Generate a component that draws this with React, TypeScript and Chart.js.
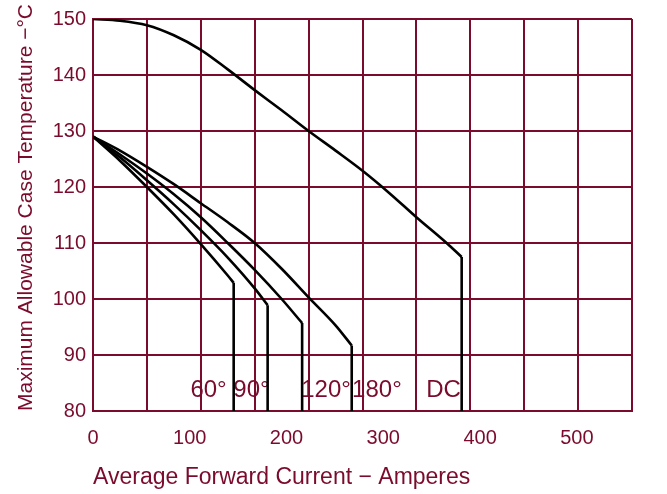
import React, { useEffect, useRef } from 'react';
import { Chart, registerables } from 'chart.js';

Chart.register(...registerables);

const MAROON = '#7a0b2c';
const FONT = '"Liberation Sans", Arial, sans-serif';

// axis ticks
const xTickValues = [0, 100, 200, 300, 400, 500];
const yTickValues = [80, 90, 100, 110, 120, 130, 140, 150];

// curves (x = average forward current A, y = max case temperature °C);
// each curve ends at its last point and then drops vertically to the axis floor
const FLOOR = 80;

const dcX = [0, 25, 50, 75, 100, 125, 150, 175, 200, 225, 250, 275, 300, 328, 342];
const dcY = [150, 149.7, 148.9, 147.1, 144.5, 141.0, 137.3, 133.7, 130, 126.5, 122.9, 118.9, 114.6, 110, 107.5];

const deg180X = [0, 25, 50, 75, 100, 125, 150, 175, 200, 225, 240];
const deg180Y = [129, 126.5, 123.6, 120.5, 117.1, 113.7, 110, 105.4, 100.3, 95.3, 91.7];

const deg120X = [0, 25, 50, 75, 100, 125, 150, 175, 194];
const deg120Y = [129, 125.8, 122.4, 118.7, 114.6, 110, 105.2, 100, 95.7];

const deg90X = [0, 25, 50, 75, 100, 125, 150, 162];
const deg90Y = [129, 125.3, 121.2, 116.9, 112.3, 107.4, 101.9, 98.9];

const deg60X = [0, 25, 50, 75, 100, 125, 130.5];
const deg60Y = [129, 124.7, 120, 115.1, 109.8, 104.2, 102.9];

// curve labels
const labelTexts = ['60°', '90°', '120°', '180°', 'DC'];
const labelX = [107.2, 147, 216.2, 263.4, 325.2];
const labelY = [83.6, 83.6, 83.6, 83.6, 83.6];

const toPoints = (xs: number[], ys: number[]) => xs.map((x, i) => ({ x, y: ys[i] }));

const curveLabels = {
  id: 'curveLabels',
  beforeDatasetsDraw(chart: any) {
    const { ctx, scales } = chart;
    const xs = scales.x;
    const ys = scales.y;
    ctx.save();
    ctx.font = `24px ${FONT}`;
    ctx.fillStyle = MAROON;
    ctx.textAlign = 'center';
    ctx.textBaseline = 'middle';
    labelTexts.forEach((t, i) => {
      ctx.fillText(t, xs.getPixelForValue(labelX[i]), ys.getPixelForValue(labelY[i]));
    });
    ctx.restore();
  },
};

export default function App() {
  const canvasRef = useRef<HTMLCanvasElement | null>(null);

  useEffect(() => {
    if (!canvasRef.current) return;
    Chart.defaults.font.family = FONT;
    const base = {
      borderColor: '#000',
      borderWidth: 2.6,
      pointRadius: 0,
      fill: false,
      xAxisID: 'x',
      yAxisID: 'y',
    };
    const curve = (label: string, xs: number[], ys: number[]) => ({
      label,
      data: toPoints(xs, ys),
      cubicInterpolationMode: 'monotone',
      ...base,
    });
    const drop = (label: string, xs: number[], ys: number[]) => {
      const n = xs.length - 1;
      return {
        label: label + ' limit',
        data: [
          { x: xs[n], y: ys[n] },
          { x: xs[n], y: FLOOR },
        ],
        tension: 0,
        ...base,
      };
    };
    const series: [string, number[], number[]][] = [
      ['DC', dcX, dcY],
      ['180°', deg180X, deg180Y],
      ['120°', deg120X, deg120Y],
      ['90°', deg90X, deg90Y],
      ['60°', deg60X, deg60Y],
    ];
    const datasets: any[] = [];
    series.forEach(([l, xs, ys]) => {
      datasets.push(curve(l, xs, ys));
      datasets.push(drop(l, xs, ys));
    });

    const chart = new Chart(canvasRef.current, {
      type: 'line',
      data: { datasets },
      options: {
        animation: false,
        responsive: true,
        maintainAspectRatio: false,
        devicePixelRatio: 1,
        layout: { padding: { top: 19, right: 35, left: 0, bottom: 0 } },
        plugins: { legend: { display: false }, tooltip: { enabled: false } },
        scales: {
          x: {
            type: 'linear',
            position: 'bottom',
            min: 0,
            max: 500,
            ticks: { display: false, stepSize: 50 },
            grid: { color: MAROON, lineWidth: 2, drawTicks: false },
            border: { color: MAROON, width: 2 },
            afterFit(s: any) {
              s.height = 0;
              s.paddingLeft = 0;
              s.paddingRight = 0;
            },
          },
          x2: {
            type: 'linear',
            position: 'bottom',
            min: 0,
            max: 557,
            grid: { display: false, drawTicks: false },
            border: { display: false },
            afterBuildTicks(s: any) {
              s.ticks = xTickValues.map((v) => ({ value: v }));
            },
            ticks: {
              color: MAROON,
              font: { size: 20 },
              padding: 15,
              maxRotation: 0,
              autoSkip: false,
            },
            title: {
              display: true,
              text: 'Average Forward Current − Amperes',
              align: 'start',
              color: MAROON,
              font: { size: 23 },
              padding: { top: 0, bottom: 3 },
            },
            afterFit(s: any) {
              s.height = 83;
              s.paddingLeft = 0;
              s.paddingRight = 0;
            },
          },
          y: {
            type: 'linear',
            position: 'left',
            min: 80,
            max: 150,
            afterBuildTicks(s: any) {
              s.ticks = yTickValues.map((v) => ({ value: v }));
            },
            ticks: { color: MAROON, font: { size: 20 }, padding: 7 },
            grid: { color: MAROON, lineWidth: 2, drawTicks: false },
            border: { color: MAROON, width: 2 },
            title: {
              display: true,
              text: 'Maximum Allowable Case Temperature −°C',
              align: 'start',
              color: MAROON,
              font: { size: 21 },
              padding: { top: 14, bottom: 0 },
            },
            afterFit(s: any) {
              s.width = 93;
              s.paddingTop = 0;
              s.paddingBottom = 0;
            },
          },
        },
      } as any,
      plugins: [curveLabels],
    });
    return () => chart.destroy();
  }, []);

  return (
    <div style={{ position: 'absolute', left: 0, top: 0, width: 667, height: 494, background: '#fff' }}>
      <canvas ref={canvasRef} />
    </div>
  );
}
